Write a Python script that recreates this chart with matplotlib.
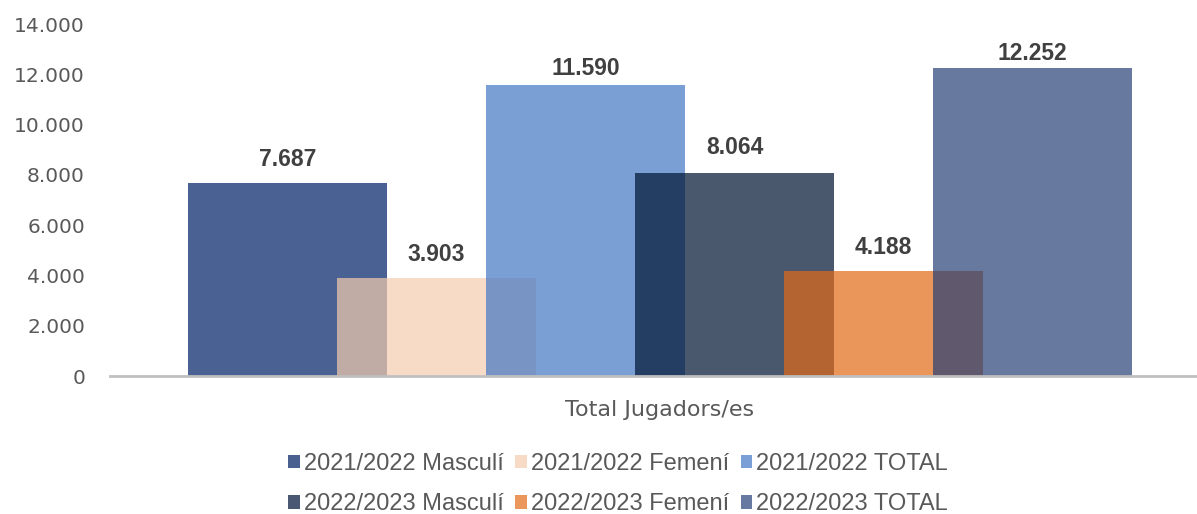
import matplotlib
matplotlib.use("Agg")
import matplotlib.pyplot as plt
from matplotlib.patches import Patch

# dades
series = ["2021/2022 Masculí", "2021/2022 Femení", "2021/2022 TOTAL",
          "2022/2023 Masculí", "2022/2023 Femení", "2022/2023 TOTAL"]
valors = [7687, 3903, 11590, 8064, 4188, 12252]
etiquetes = ["7.687", "3.903", "11.590", "8.064", "4.188", "12.252"]
categoria = "Total Jugadors/es"
yticks = [0, 2000, 4000, 6000, 8000, 10000, 12000, 14000]
ytick_labels = ["0", "2.000", "4.000", "6.000", "8.000", "10.000", "12.000", "14.000"]

colors = ["#04246A", "#F5CCAE", "#4176C4", "#041736", "#E26A16", "#264077"]
alfa = [0.72, 0.7, 0.7, 0.72, 0.7, 0.7]
# colors vistos sobre blanc (per a la llegenda)
colors_llegenda = ["#4A6190", "#F8DBC6", "#7A9FD6", "#4A5873", "#EB975C", "#6779A0"]
# separacio de les etiquetes (px sobre la barra)
sep_px = [16.5, 16.5, 10, 19.5, 16.5, 8]

fig = plt.figure(figsize=(11.97, 5.14), dpi=100)
ax = fig.add_axes([110 / 1197, 1 - 376 / 514, 1087 / 1197, 352 / 514])

ample = 1.336
for i, v in enumerate(valors):
    ax.bar(i, v, width=ample, color=colors[i], alpha=alfa[i], linewidth=0, zorder=2 + i)
    ax.annotate(etiquetes[i], (i, v), xytext=(0, sep_px[i] * 0.72),
                textcoords="offset points", ha="center", va="baseline",
                fontsize=16.5, fontweight="bold", color="#404040",
                family="Liberation Sans", zorder=20, annotation_clip=False)

ax.set_xlim(-1.191, 6.104)
ax.set_ylim(0, 14000)
ax.set_yticks(yticks)
ax.set_yticklabels(ytick_labels)
ax.set_xticks([])
ax.tick_params(axis="y", length=0, pad=18, labelsize=14.5, labelcolor="#595959")

for s in ["top", "right", "left"]:
    ax.spines[s].set_visible(False)
ax.spines["bottom"].set_color("#BFBFBF")
ax.spines["bottom"].set_linewidth(2)
ax.spines["bottom"].set_zorder(30)

fig.text(660 / 1197, 1 - 410 / 514, categoria, ha="center", va="center",
         fontsize=16, color="#595959")

handles = [Patch(facecolor=c, edgecolor="none") for c in colors_llegenda]
ordre = [0, 3, 1, 4, 2, 5]
leg = fig.legend([handles[k] for k in ordre], [series[k] for k in ordre],
                 loc="center", bbox_to_anchor=(618 / 1197, 1 - 484 / 514),
                 ncol=3, frameon=False, handlelength=0.5, handleheight=0.5,
                 handletextpad=0.15, columnspacing=0.5, labelspacing=0.78,
                 borderpad=0, prop={"family": "Liberation Sans", "size": 17})
for t in leg.get_texts():
    t.set_color("#595959")

fig.savefig("out.png", dpi=100)
